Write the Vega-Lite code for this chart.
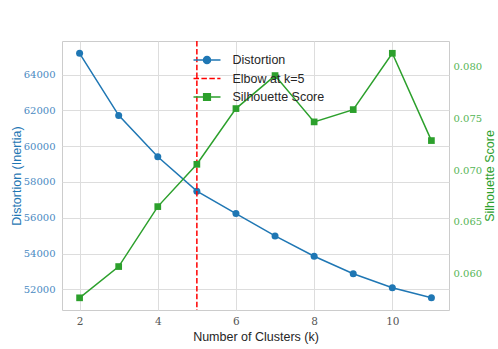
{
  "$schema": "https://vega.github.io/schema/vega-lite/v6.json",
  "width": 387,
  "height": 269,
  "autosize": {"type": "none"},
  "padding": {"left": 62, "top": 41, "right": 49, "bottom": 39},
  "background": "white",
  "config": {
    "view": {"stroke": "#cccccc", "strokeWidth": 1},
    "axis": {"grid": true, "gridColor": "#dddddd", "gridWidth": 1, "domain": false, "ticks": false,
      "labelFont": "DejaVu Serif", "labelFontSize": 10, "titleFont": "Liberation Sans", "titleFontSize": 12.5, "titleFontWeight": "normal"}
  },
  "data": {"values": [
    {"k": 2, "distortion": 65190, "silhouette": 0.05762},
    {"k": 3, "distortion": 61720, "silhouette": 0.06065},
    {"k": 4, "distortion": 59409, "silhouette": 0.06646},
    {"k": 5, "distortion": 57488, "silhouette": 0.07056},
    {"k": 6, "distortion": 56234, "silhouette": 0.07596},
    {"k": 7, "distortion": 54985, "silhouette": 0.07916},
    {"k": 8, "distortion": 53849, "silhouette": 0.07467},
    {"k": 9, "distortion": 52875, "silhouette": 0.07586},
    {"k": 10, "distortion": 52091, "silhouette": 0.08132},
    {"k": 11, "distortion": 51530, "silhouette": 0.07286}
  ]},
  "encoding": {
    "x": {"field": "k", "type": "quantitative", "title": "Number of Clusters (k)",
      "scale": {"domain": [1.55, 11.45], "nice": false, "zero": false},
      "axis": {"values": [2, 4, 6, 8, 10], "labelColor": "#555555", "titleColor": "#262626", "labelPadding": 6, "titlePadding": 4,
        "labelFont": "DejaVu Serif", "labelFontSize": 10.5}}
  },
  "layer": [
    {
      "encoding": {
        "y": {"field": "distortion", "type": "quantitative", "title": "Distortion (Inertia)",
          "scale": {"domain": [50847, 65876], "nice": false, "zero": false},
          "axis": {"orient": "left", "values": [52000, 54000, 56000, 58000, 60000, 62000, 64000], "format": "d",
            "labelColor": "#4a8ac2", "titleColor": "#1f77b4", "labelPadding": 7, "titlePadding": 0,
            "labelFont": "DejaVu Serif", "labelFontSize": 10}}
      },
      "layer": [
        {"mark": {"type": "line", "strokeWidth": 1.5},
         "encoding": {"color": {"datum": "Distortion", "type": "nominal",
           "scale": {"domain": ["Distortion", "Elbow at k=5", "Silhouette Score"], "range": ["#1f77b4", "#ff0000", "#2ca02c"]},
           "legend": {"orient": "none", "legendX": 135, "legendY": 9, "title": null, "padding": 0,
             "symbolSize": 324, "labelOffset": 15.5, "rowPadding": 1.5, "labelFont": "Liberation Sans", "labelFontSize": 12.5, "labelColor": "#262626",
             "fillColor": null, "strokeColor": null,
             "encode": {"symbols": {"update": {
               "shape": {"signal": "datum.value === 'Distortion' ? 'M-1.5,0L1.5,0M-0.39,0A0.39,0.39 0 1,1 0.39,0A0.39,0.39 0 1,1 -0.39,0Z' : datum.value === 'Silhouette Score' ? 'M-1.5,0L1.5,0M-0.37,-0.37L0.37,-0.37L0.37,0.37L-0.37,0.37Z' : 'M-1.5,0L-0.89,0M-0.62,0L-0.01,0M0.26,0L0.87,0M1.14,0L1.5,0'"},
               "fill": {"signal": "scale('color', datum.value)"},
               "stroke": {"signal": "scale('color', datum.value)"},
               "strokeWidth": {"value": 1.5},
               "opacity": {"value": 1},
               "fillOpacity": {"value": 1},
               "strokeDash": {"value": []}
             }}}
           }}}},
        {"mark": {"type": "point", "shape": "circle", "filled": true, "size": 49, "opacity": 1, "color": "#1f77b4"}},
        {"mark": {"type": "rule", "color": "#ff0000", "strokeWidth": 1.5, "strokeDash": [5.5, 2.4]},
         "data": {"values": [{"k": 5}]},
         "encoding": {"y": null, "color": {"datum": "Elbow at k=5", "type": "nominal"}}}
      ]
    },
    {
      "encoding": {
        "y": {"field": "silhouette", "type": "quantitative", "title": "Silhouette Score",
          "scale": {"domain": [0.05644, 0.08251], "nice": false, "zero": false},
          "axis": {"orient": "right", "values": [0.06, 0.065, 0.07, 0.075, 0.08], "format": ".3f",
            "labelColor": "#55b555", "titleColor": "#2ca02c", "labelPadding": 4, "titlePadding": 2, "titleAngle": 270, "titleBaseline": "top",
            "labelFont": "DejaVu Serif", "labelFontSize": 10}}
      },
      "layer": [
        {"mark": {"type": "line", "strokeWidth": 1.5},
         "encoding": {"color": {"datum": "Silhouette Score", "type": "nominal"}}},
        {"mark": {"type": "point", "shape": "square", "filled": true, "size": 45, "opacity": 1, "color": "#2ca02c"}}
      ]
    }
  ],
  "resolve": {"scale": {"y": "independent"}}
}
